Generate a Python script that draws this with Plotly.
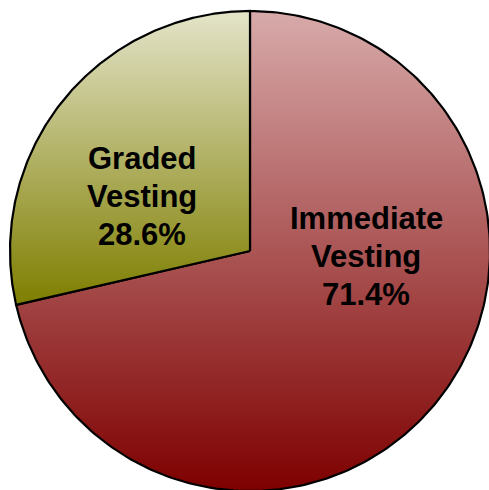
import numpy as np
import plotly.graph_objects as go

# Dados do grafico
rotulos = [["Immediate", "Vesting"], ["Graded", "Vesting"]]
valores = [71.4, 28.6]

# Cores (topo, base) do degrade de cada fatia
COR_TOPO = ["#D8AAAA", "#E4E4CA"]
COR_BASE = ["#7E0000", "#7E7E00"]

# Geometria em pixels: centro e raio do circulo
CX, CY, R = 250, 251, 240
# Centro (x) e meio da primeira linha (y) de cada rotulo, em pixels
POS_ROTULO = [(366, 218), (142, 158)]
ENTRELINHA = 38


def px_para_dado(px, py):
    return (px - CX) / R, (CY - py) / R


total = sum(valores)
fig = go.Figure()

inicio = 0.0
for linhas, v, topo, base, pos in zip(rotulos, valores, COR_TOPO, COR_BASE, POS_ROTULO):
    fim = inicio + v / total * 360
    # fatia no sentido horario a partir das 12h
    ang = np.radians(90 - np.linspace(inicio, fim, 240))
    xs = np.concatenate([[0], np.cos(ang), [0]])
    ys = np.concatenate([[0], np.sin(ang), [0]])
    fig.add_trace(go.Scatter(
        x=xs, y=ys, mode="lines", fill="toself",
        line=dict(color="black", width=2.2),
        fillgradient=dict(type="vertical",
                          colorscale=[[0, base], [1, topo]]),
        hoverinfo="skip", showlegend=False,
    ))
    textos = linhas + [f"{v / total * 100:.1f}%"]
    for i, t in enumerate(textos):
        x, y = px_para_dado(pos[0], pos[1] + i * ENTRELINHA)
        fig.add_annotation(
            x=x, y=y, showarrow=False, text=f"<b>{t}</b>",
            xanchor="center", yanchor="middle",
            font=dict(family="Liberation Sans, Arial", size=31, color="black"),
        )
    inicio = fim

fig.update_layout(
    width=489, height=490,
    margin=dict(l=0, r=0, t=0, b=0),
    paper_bgcolor="white", plot_bgcolor="white",
    xaxis=dict(range=[-CX / R, (489 - CX) / R], visible=False, fixedrange=True),
    yaxis=dict(range=[-(490 - CY) / R, CY / R], visible=False, fixedrange=True),
)

fig.write_html("out.html", config={"displayModeBar": False},
               post_script="document.body.style.margin='0';")
